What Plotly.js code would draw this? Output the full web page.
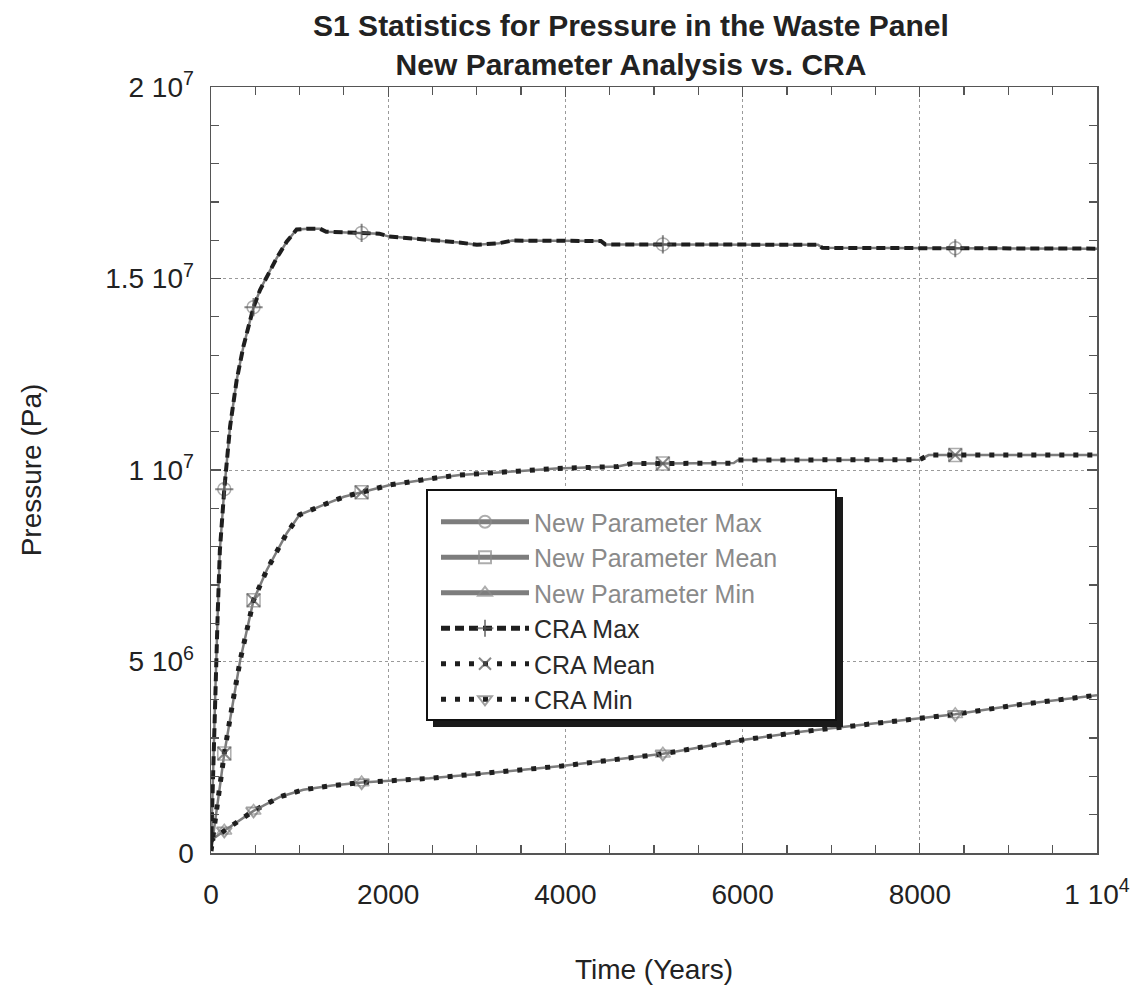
<!DOCTYPE html>
<html>
<head>
<meta charset="utf-8">
<script src="https://cdn.plot.ly/plotly-3.0.1.min.js"></script>
<style>html,body{margin:0;padding:0;background:#fff;}#chart{width:1138px;height:985px;}</style>
</head>
<body>
<div id="chart"></div>
<script>
// ---- Data (pressure in Pa, time in years) ----
const timeMax = [0, 15, 30, 50, 75, 100, 150, 215, 290, 365, 480, 553, 629, 741, 854, 967, 1100, 1230, 1300, 1700, 1900, 2000, 2300, 2500, 2800, 3000, 3250, 3400, 4400, 4450, 5100, 6850, 6900, 8400, 10000];
const npMax  = [0.1e6, 1.5e6, 2.8e6, 4.3e6, 6.2e6, 7.9e6, 9.5e6, 11.13e6, 12.35e6, 13.22e6, 14.25e6, 14.7e6, 15.05e6, 15.53e6, 15.96e6, 16.28e6, 16.30e6, 16.30e6, 16.22e6, 16.19e6, 16.17e6, 16.10e6, 16.05e6, 16.00e6, 15.94e6, 15.88e6, 15.92e6, 15.99e6, 15.98e6, 15.89e6, 15.89e6, 15.88e6, 15.80e6, 15.79e6, 15.78e6];
const craMax = [0.1e6, 1.5e6, 2.8e6, 4.3e6, 6.2e6, 7.9e6, 9.5e6, 11.13e6, 12.35e6, 13.22e6, 14.25e6, 14.7e6, 15.05e6, 15.53e6, 15.96e6, 16.28e6, 16.30e6, 16.30e6, 16.22e6, 16.19e6, 16.17e6, 16.10e6, 16.05e6, 16.00e6, 15.94e6, 15.88e6, 15.92e6, 15.99e6, 15.98e6, 15.89e6, 15.89e6, 15.88e6, 15.80e6, 15.79e6, 15.78e6];

const timeMean = [0, 30, 60, 100, 150, 250, 330, 480, 630, 855, 1000, 1270, 1500, 1700, 2020, 2500, 2810, 3460, 3890, 4590, 4750, 5100, 5900, 5950, 8000, 8100, 8400, 10000];
const npMean  = [0.05e6, 0.6e6, 1.1e6, 1.73e6, 2.6e6, 4.0e6, 5.04e6, 6.6e6, 7.39e6, 8.35e6, 8.83e6, 9.09e6, 9.30e6, 9.42e6, 9.61e6, 9.78e6, 9.87e6, 9.97e6, 10.04e6, 10.09e6, 10.17e6, 10.17e6, 10.18e6, 10.26e6, 10.27e6, 10.39e6, 10.39e6, 10.39e6];
const craMean = [0.05e6, 0.6e6, 1.1e6, 1.73e6, 2.6e6, 4.0e6, 5.04e6, 6.6e6, 7.39e6, 8.35e6, 8.83e6, 9.09e6, 9.30e6, 9.42e6, 9.61e6, 9.78e6, 9.87e6, 9.97e6, 10.04e6, 10.09e6, 10.17e6, 10.17e6, 10.18e6, 10.26e6, 10.27e6, 10.39e6, 10.39e6, 10.39e6];

const timeMin = [0, 6, 150, 480, 783, 1042, 1366, 1700, 2467, 3115, 3957, 5100, 6000, 6680, 8400, 9074, 10000];
const npMin  = [0.3e6, 0.34e6, 0.58e6, 1.1e6, 1.47e6, 1.65e6, 1.76e6, 1.84e6, 1.95e6, 2.08e6, 2.27e6, 2.59e6, 2.95e6, 3.17e6, 3.62e6, 3.86e6, 4.12e6];
const craMin = [0.3e6, 0.34e6, 0.58e6, 1.1e6, 1.47e6, 1.65e6, 1.76e6, 1.84e6, 1.95e6, 2.08e6, 2.27e6, 2.59e6, 2.95e6, 3.17e6, 3.62e6, 3.86e6, 4.12e6];

const markerTimes = [150, 480, 1700, 5100, 8400];

const seriesNames = ["New Parameter Max", "New Parameter Mean", "New Parameter Min", "CRA Max", "CRA Mean", "CRA Min"];

const xTickVals = [0, 2000, 4000, 6000, 8000, 10000];
const xTickText = ["0", "2000", "4000", "6000", "8000", "1 10<sup>4</sup>"];
const yTickVals = [0, 5e6, 1e7, 1.5e7, 2e7];
const yTickText = ["0", "5 10<sup>6</sup>", "1 10<sup>7</sup>", "1.5 10<sup>7</sup>", "2 10<sup>7</sup>"];

// ---- Build traces ----
const FONT = 'Liberation Sans, Arial, sans-serif';
const sizes = (t, s) => t.map(v => markerTimes.includes(v) ? s : 0);
const NP_COL = '#7d7d7d';
const CRA_COL = '#1e1e1e';

function npTrace(t, y, name, symbol) {
  return {
    x: t, y: y, name: '<span style="color:#8a8a8a">' + name + '</span>',
    type: 'scatter', mode: 'lines+markers',
    line: {color: NP_COL, width: 2.5},
    marker: {symbol: symbol, size: sizes(t, 13), color: '#8a8a8a', line: {width: 1.5, color: '#8a8a8a'}},
    legendgroup: name
  };
}
function craTrace(t, y, name, symbol, dash, width, mcol) {
  return {
    x: t, y: y, name: '<span style="color:#2a2a2a">' + name + '</span>',
    type: 'scatter', mode: 'lines+markers',
    line: {color: CRA_COL, width: width, dash: dash},
    marker: {symbol: symbol, size: sizes(t, 13), color: mcol, line: {width: 2, color: mcol}},
    legendgroup: name
  };
}

const traces = [
  npTrace(timeMax, npMax, seriesNames[0], 'circle-open'),
  npTrace(timeMean, npMean, seriesNames[1], 'square-open'),
  npTrace(timeMin, npMin, seriesNames[2], 'triangle-up-open'),
  craTrace(timeMax, craMax, seriesNames[3], 'cross-thin-open', '9px,5px', 4, '#555'),
  craTrace(timeMean, craMean, seriesNames[4], 'x-thin-open', '5px,9px', 5, '#555'),
  craTrace(timeMin, craMin, seriesNames[5], 'triangle-down-open', '5px,9px', 5, '#777')
];

const axisCommon = {
  showline: true, linecolor: '#555', linewidth: 1.5, mirror: 'ticks',
  ticks: 'inside', ticklen: 10, tickwidth: 1.2, tickcolor: '#555',
  showgrid: true, gridcolor: '#9a9a9a', griddash: 'dot', gridwidth: 1,
  zeroline: false,
  tickfont: {family: FONT, size: 28, color: '#222'},
  tickmode: 'array'
};

const layout = {
  width: 1138, height: 985,
  paper_bgcolor: '#fff', plot_bgcolor: '#fff',
  margin: {l: 211, r: 41, t: 87, b: 132},
  showlegend: true,
  title: {
    text: '<b>S1 Statistics for Pressure in the Waste Panel</b><br><b>New Parameter Analysis vs. CRA</b>',
    font: {family: FONT, size: 30, color: '#222'},
    x: 631/1138, xref: 'container', xanchor: 'center',
    y: 1 - 36/985, yref: 'container', yanchor: 'top'
  },
  xaxis: Object.assign({}, axisCommon, {
    range: [0, 10000], tickvals: xTickVals, ticktext: xTickText,
    minor: {dtick: 500, ticks: 'inside', ticklen: 8, tickcolor: '#555', showgrid: false},
    ticklabelstandoff: 16,
    title: {text: 'Time (Years)', font: {family: FONT, size: 28, color: '#222'}, standoff: 56}
  }),
  yaxis: Object.assign({}, axisCommon, {
    range: [0, 2e7], tickvals: yTickVals, ticktext: yTickText,
    minor: {dtick: 1e6, ticks: 'inside', ticklen: 8, tickcolor: '#555', showgrid: false},
    ticklabelstandoff: 10,
    title: {text: 'Pressure (Pa)', font: {family: FONT, size: 28, color: '#222'}, standoff: 55}
  }),
  legend: {
    x: (436 - 211) / 886, y: (853 - 499) / 766, xanchor: 'left', yanchor: 'top',
    bgcolor: 'rgba(0,0,0,0)', borderwidth: 0,
    font: {family: FONT, size: 25, color: '#333'},
    itemwidth: 88, itemsizing: 'constant', traceorder: 'normal', tracegroupgap: 0
  },
  shapes: [
    {type: 'rect', xref: 'paper', yref: 'paper', layer: 'above',
     x0: (433 - 211) / 886, x1: (843 - 211) / 886, y0: (853 - 727) / 766, y1: (853 - 497) / 766,
     fillcolor: '#1a1a1a', line: {width: 0}},
    {type: 'rect', xref: 'paper', yref: 'paper', layer: 'above',
     x0: (427 - 211) / 886, x1: (836 - 211) / 886, y0: (853 - 720) / 766, y1: (853 - 490) / 766,
     fillcolor: '#ffffff', line: {width: 2, color: '#111'}}
  ]
};

Plotly.newPlot('chart', traces, layout, {displayModeBar: false, staticPlot: true});
</script>
</body>
</html>
